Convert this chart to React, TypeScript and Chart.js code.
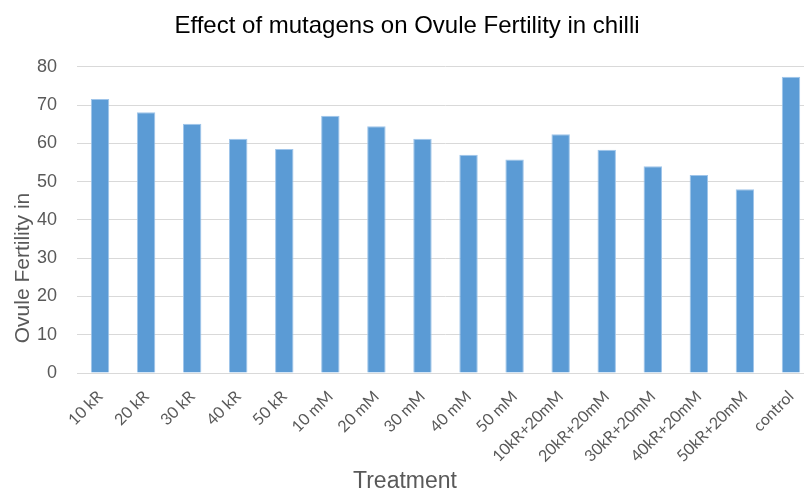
import React, { useEffect, useRef } from "react";
import { Chart, registerables } from "chart.js";

Chart.register(...registerables);

const categories = [
  "10 kR", "20 kR", "30 kR", "40 kR", "50 kR",
  "10 mM", "20 mM", "30 mM", "40 mM", "50 mM",
  "10kR+20mM", "20kR+20mM", "30kR+20mM", "40kR+20mM", "50kR+20mM",
  "control",
];
const ovuleFertility = [
  71.6, 68.1, 65.1, 61.2, 58.5,
  67.2, 64.5, 61.2, 57.0, 55.8,
  62.4, 58.3, 54.0, 51.7, 48.0,
  77.4,
];
const yTicks = [0, 10, 20, 30, 40, 50, 60, 70, 80];
const chartTitle = "Effect of mutagens on Ovule Fertility in chilli";
const xTitle = "Treatment";
const yTitle = "Ovule Fertility in";

const W = 814;
const H = 492;

export default function App() {
  const ref = useRef<HTMLCanvasElement | null>(null);

  useEffect(() => {
    if (!ref.current) return;
    const axisTitlesPlugin = {
      id: "axisTitlesPlugin",
      afterDraw(chart: any) {
        const ctx = chart.ctx;
        ctx.save();
        ctx.font = "21px 'Liberation Sans', Arial, sans-serif";
        ctx.fillStyle = "#595959";
        ctx.textAlign = "center";
        ctx.textBaseline = "middle";
        ctx.translate(23, 268);
        ctx.rotate(-Math.PI / 2);
        ctx.fillText(yTitle, 0, 0);
        ctx.restore();

        ctx.save();
        ctx.font = "23px 'Liberation Sans', Arial, sans-serif";
        ctx.fillStyle = "#595959";
        ctx.textAlign = "center";
        ctx.textBaseline = "middle";
        ctx.fillText(xTitle, 405, 482);
        ctx.restore();
      },
    };
    const chart = new Chart(ref.current, {
      type: "bar",
      data: {
        labels: categories,
        datasets: [
          {
            label: yTitle,
            data: ovuleFertility,
            backgroundColor: "#5B9BD5",
            borderColor: "#9FC5EA",
            borderWidth: 1,
            barPercentage: 0.4,
            categoryPercentage: 1,
          },
        ],
      },
      options: {
        responsive: false,
        animation: false,
        layout: { padding: { left: 0, right: 0, top: 0, bottom: 0 } },
        plugins: {
          legend: { display: false },
          tooltip: { enabled: false },
          title: {
            display: true,
            text: chartTitle,
            color: "#000000",
            font: { family: "'Liberation Sans', Arial, sans-serif", size: 24, weight: "normal", lineHeight: 1.2 },
            padding: { top: 12, bottom: 26 },
          },
        },
        scales: {
          x: {
            grid: { display: false, drawTicks: false },
            border: { display: true, color: "#d9d9d9", width: 1 },
            ticks: {
              autoSkip: false,
              maxRotation: 45,
              minRotation: 45,
              color: "#595959",
              font: { family: "Lato, 'Open Sans', sans-serif", size: 16 },
              padding: 14,
            },
            title: { display: false },
            afterFit: (scale: any) => {
              scale.height = 119;
              scale.paddingLeft = 0;
              scale.paddingRight = 0;
            },
          },
          y: {
            min: 0,
            max: 80,
            afterBuildTicks: (scale: any) => {
              scale.ticks = yTicks.map((v) => ({ value: v }));
            },
            grid: { color: "#d9d9d9", lineWidth: 1, drawTicks: false },
            border: { display: false },
            ticks: {
              color: "#595959",
              font: { family: "'Liberation Sans', Arial, sans-serif", size: 18 },
              padding: 20,
            },
            afterFit: (scale: any) => {
              scale.width = 77;
            },
          },
        },
      },
      plugins: [axisTitlesPlugin],
    });
    return () => chart.destroy();
  }, []);

  return (
    <div style={{ position: "fixed", left: 0, top: 0, width: W, height: H, background: "#ffffff" }}>
      <canvas ref={ref} width={W} height={H} style={{ display: "block", width: W, height: H }} />
    </div>
  );
}
